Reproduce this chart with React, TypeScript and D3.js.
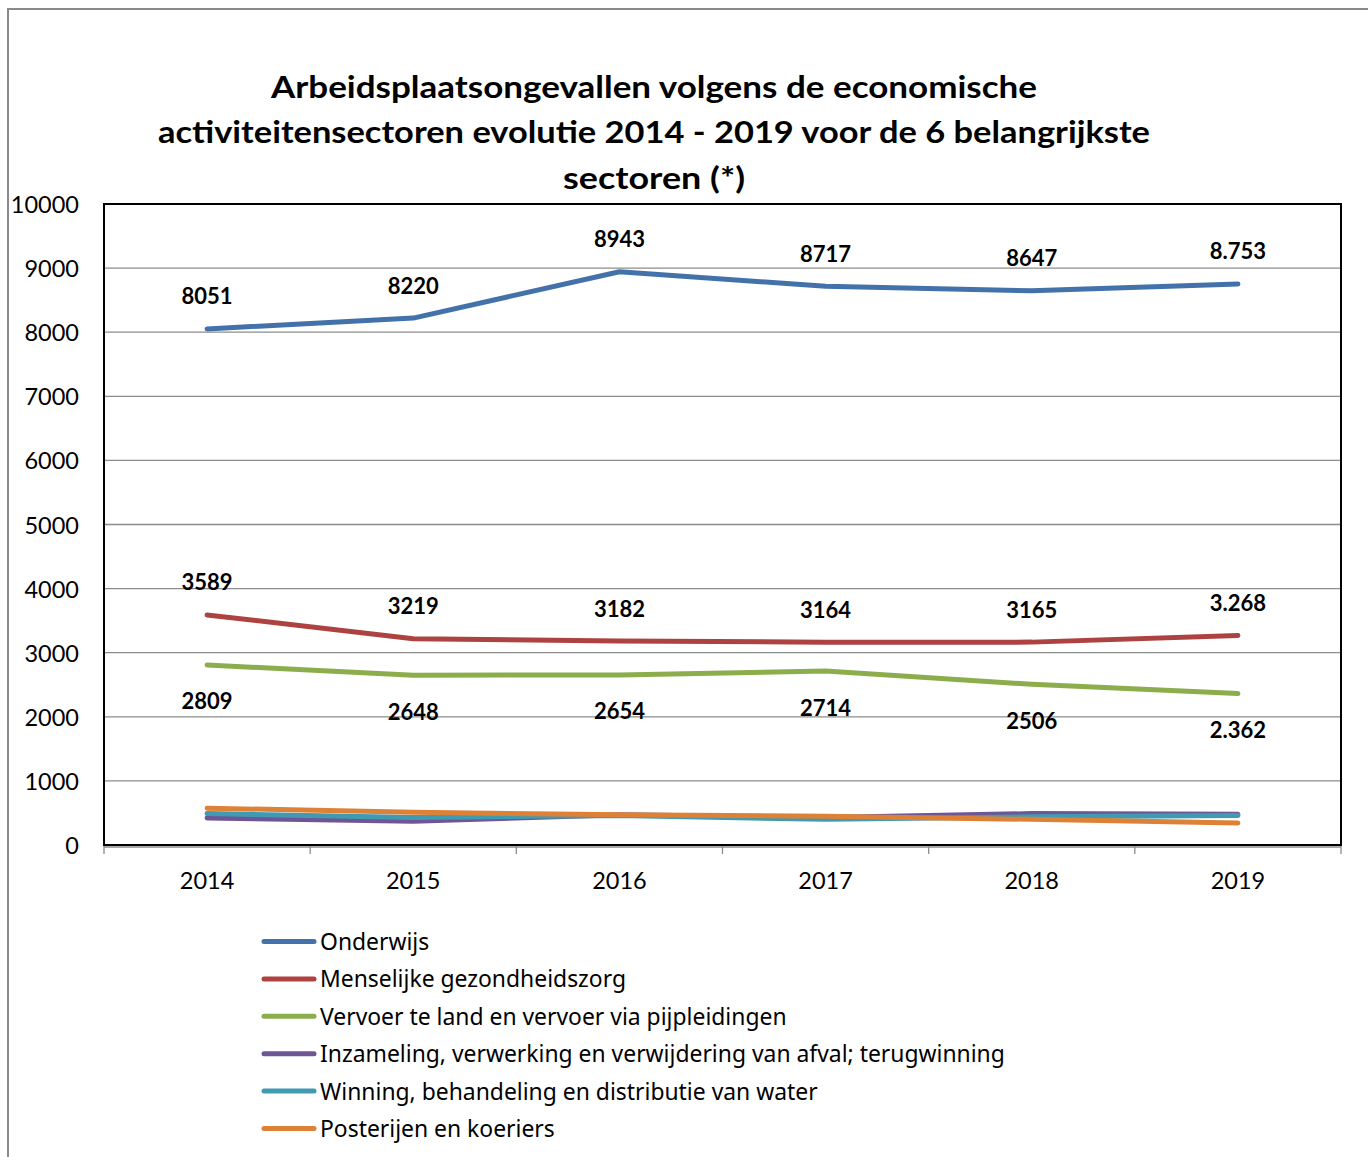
import React from "react";
import * as d3 from "d3";

const years = ["2014", "2015", "2016", "2017", "2018", "2019"];
const seriesNames = [
  "Onderwijs",
  "Menselijke gezondheidszorg",
  "Vervoer te land en vervoer via pijpleidingen",
  "Inzameling, verwerking en verwijdering van afval; terugwinning",
  "Winning, behandeling en distributie van water",
  "Posterijen en koeriers",
];
const onderwijs = [8051, 8220, 8943, 8717, 8647, 8753];
const menselijke = [3589, 3219, 3182, 3164, 3165, 3268];
const vervoer = [2809, 2648, 2654, 2714, 2506, 2362];
const inzameling = [420, 370, 470, 430, 490, 480];
const winning = [490, 430, 460, 400, 440, 460];
const posterijen = [575, 510, 470, 450, 400, 345];
const onderwijsLabels = ["8051", "8220", "8943", "8717", "8647", "8.753"];
const menselijkeLabels = ["3589", "3219", "3182", "3164", "3165", "3.268"];
const vervoerLabels = ["2809", "2648", "2654", "2714", "2506", "2.362"];
const yTicks = [0, 1000, 2000, 3000, 4000, 5000, 6000, 7000, 8000, 9000, 10000];
const colors = ["#4371AA", "#AD4340", "#8BAD4B", "#6E5696", "#3F9AB2", "#DD8137"];
const titleLines = [
  "Arbeidsplaatsongevallen volgens de economische",
  "activiteitensectoren evolutie 2014 - 2019 voor de 6 belangrijkste",
  "sectoren (*)",
];

export default function App() {
  const W = 1368, H = 1157;
  const left = 104, right = 1341, top = 204, bottom = 845;
  const font = "Lato, 'Open Sans', sans-serif";
  const x = d3.scaleBand<string>().domain(years).range([left, right]).padding(0);
  const cx = (y: string) => (x(y) as number) + x.bandwidth() / 2;
  const y = d3.scaleLinear().domain([0, 10000]).range([bottom, top]);
  const allSeries = [onderwijs, menselijke, vervoer, inzameling, winning, posterijen];
  const line = d3
    .line<number>()
    .x((_, i) => cx(years[i]))
    .y((d) => y(d));
  const labelSets: { vals: number[]; labels: string[]; dy: number }[] = [
    { vals: onderwijs, labels: onderwijsLabels, dy: -33 },
    { vals: menselijke, labels: menselijkeLabels, dy: -33 },
    { vals: vervoer, labels: vervoerLabels, dy: 36 },
  ];
  const titleWidths = [766, 992, 182];
  const titleY = [86, 131, 177];
  const tickXs = years.map((yr) => x(yr) as number).concat([right]);
  const legendY0 = 941.5, legendStep = 37.4;

  return (
    <svg
      width={W}
      height={H}
      style={{ position: "absolute", left: 0, top: 0, background: "#fff" }}
      fontFamily={font}
    >
      <rect x={0} y={0} width={W} height={H} fill="#fff" />
      <rect x={8} y={9} width={W + 20} height={H + 20} fill="none" stroke="#8a8a8a" strokeWidth={2} />
      {titleLines.map((t, i) => (
        <text
          key={i}
          x={654}
          y={titleY[i]}
          textAnchor="middle"
          dominantBaseline="central"
          fontWeight="bold"
          fontSize={31}
          textLength={titleWidths[i]}
          lengthAdjust="spacingAndGlyphs"
          fill="#000"
        >
          {t}
        </text>
      ))}
      {yTicks.map((t) => (
        <g key={t}>
          {t > 0 && t < 10000 && (
            <line x1={left} x2={right} y1={y(t)} y2={y(t)} stroke="#8c8c8c" strokeWidth={1.3} />
          )}
          <text x={79} y={y(t)} textAnchor="end" dominantBaseline="central" fontSize={23.5} fill="#000">
            {t}
          </text>
        </g>
      ))}
      <line x1={left} x2={right} y1={847} y2={847} stroke="#8c8c8c" strokeWidth={1.3} />
      {tickXs.map((tx, i) => (
        <line key={i} x1={tx} x2={tx} y1={845} y2={854} stroke="#8c8c8c" strokeWidth={1.3} />
      ))}
      <rect x={left} y={top} width={right - left} height={bottom - top} fill="none" stroke="#000" strokeWidth={2} />
      {years.map((yr) => (
        <text key={yr} x={cx(yr)} y={880} textAnchor="middle" dominantBaseline="central" fontSize={23.5} fill="#000">
          {yr}
        </text>
      ))}
      {allSeries.map((s, i) => (
        <path
          key={i}
          d={line(s) as string}
          fill="none"
          stroke={colors[i]}
          strokeWidth={5}
          strokeLinecap="round"
          strokeLinejoin="round"
        />
      ))}
      {labelSets.map((ls, si) =>
        ls.vals.map((v, i) => (
          <text
            key={si + "-" + i}
            x={cx(years[i])}
            y={y(v) + ls.dy}
            textAnchor="middle"
            dominantBaseline="central"
            fontWeight="bold"
            fontSize={22}
            fill="#000"
          >
            {ls.labels[i]}
          </text>
        ))
      )}
      {seriesNames.map((n, i) => (
        <g key={n}>
          <line
            x1={264}
            x2={314}
            y1={legendY0 + i * legendStep}
            y2={legendY0 + i * legendStep}
            stroke={colors[i]}
            strokeWidth={5}
            strokeLinecap="round"
          />
          <text
            x={320}
            y={legendY0 + i * legendStep}
            dominantBaseline="central"
            fontSize={22.9}
            fontFamily="'Noto Sans', 'Open Sans', sans-serif"
            fill="#000"
          >
            {n}
          </text>
        </g>
      ))}
    </svg>
  );
}
